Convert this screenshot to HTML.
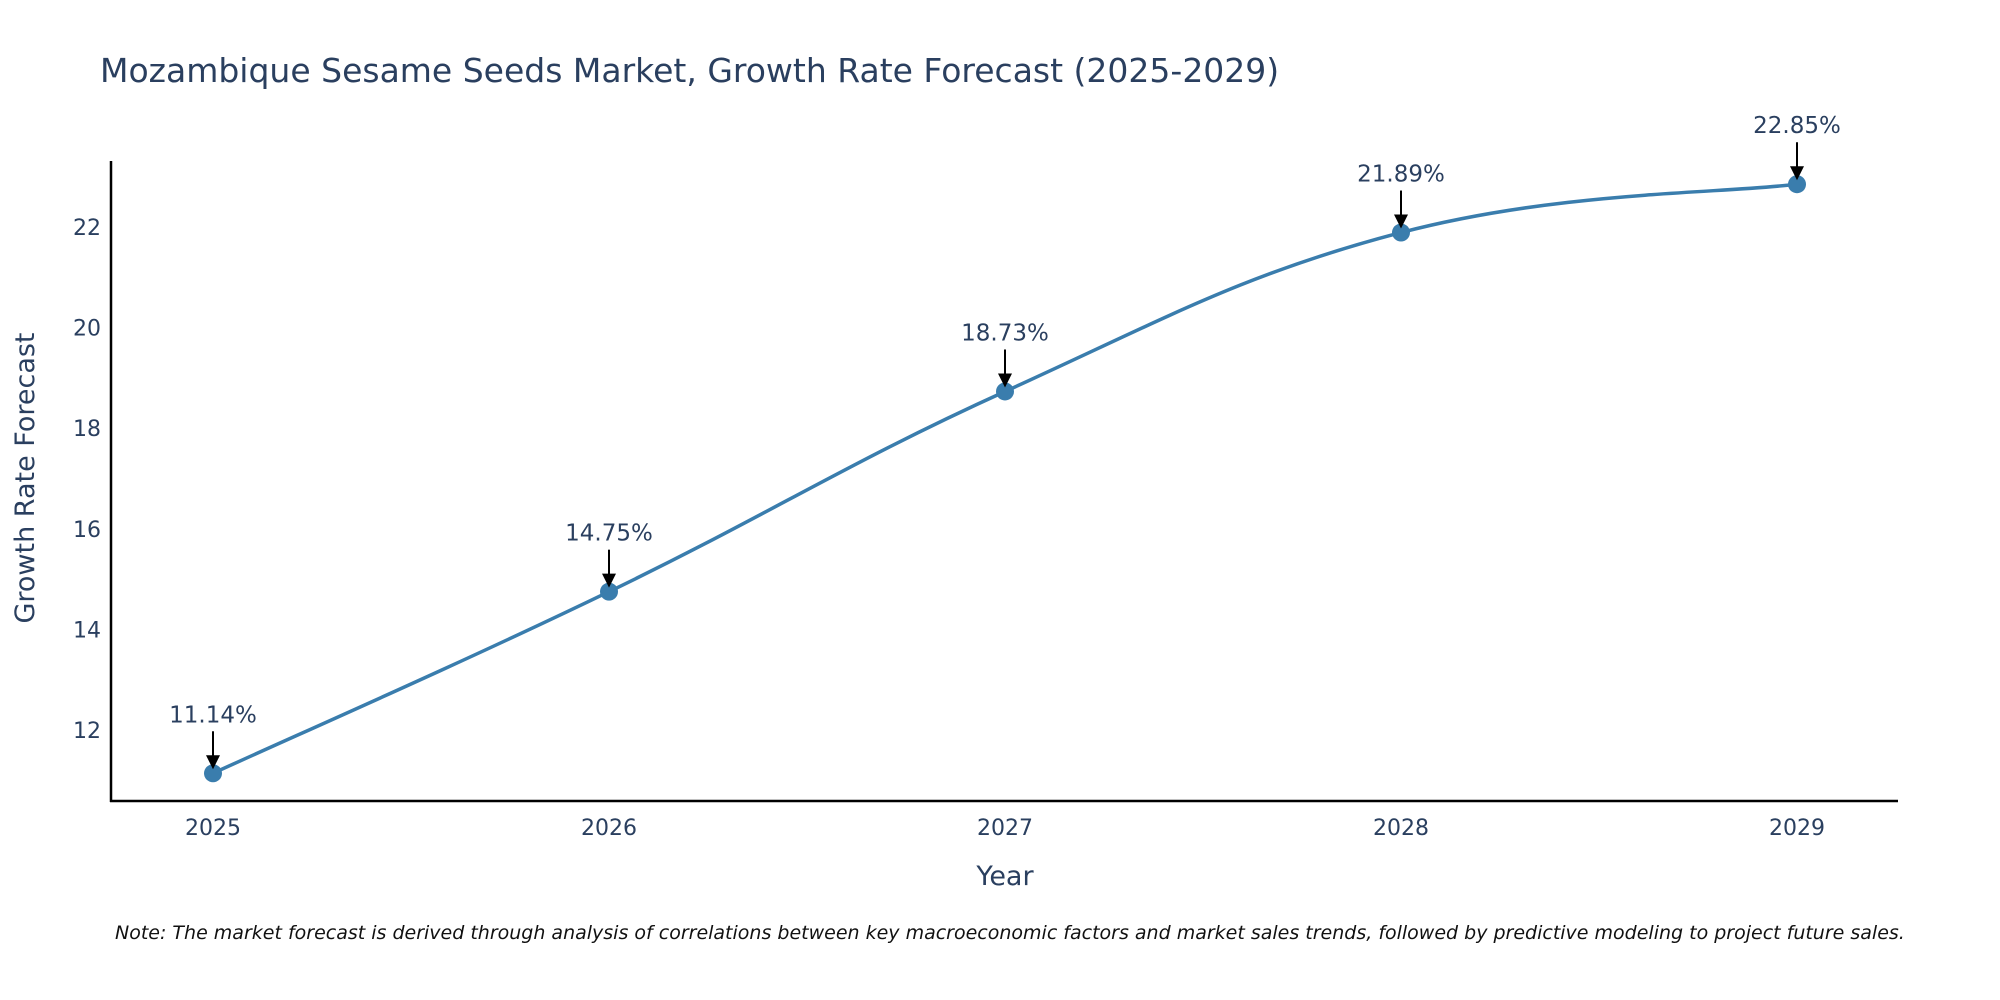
<!DOCTYPE html>
<html><head><meta charset="utf-8"><style>
html,body{margin:0;padding:0;background:#fff;}
svg{display:block;font-family:"DejaVu Sans","Liberation Sans",sans-serif;}
</style></head><body>
<svg id="chart" width="2000" height="1000" viewBox="0 0 2000 1000" xmlns="http://www.w3.org/2000/svg">
<text x="100" y="82" font-size="33" fill="#2a3f5f">Mozambique Sesame Seeds Market, Growth Rate Forecast (2025-2029)</text>
<g id="axes"></g>
<g id="series"></g>
<text transform="translate(34,478) rotate(-90)" text-anchor="middle" font-size="27" fill="#2a3f5f">Growth Rate Forecast</text>
<text x="1005" y="885" text-anchor="middle" font-size="27" fill="#2a3f5f">Year</text>
<text x="115" y="939" font-size="19" font-style="italic" fill="#111">Note: The market forecast is derived through analysis of correlations between key macroeconomic factors and market sales trends, followed by predictive modeling to project future sales.</text>
</svg>
<script>
const years = [2025, 2026, 2027, 2028, 2029];
const growth = [11.14, 14.75, 18.73, 21.89, 22.85];
const yTicks = [12, 14, 16, 18, 20, 22];
const NS = "http://www.w3.org/2000/svg";
function xs(i){ return 213 + (i) * 396; }
function ys(v){ return 730 - (v - 12) * 50.3; }
function mk(tag, attrs, parent){ const e = document.createElementNS(NS, tag); for (const k in attrs) e.setAttribute(k, attrs[k]); parent.appendChild(e); return e; }
const axes = document.getElementById('axes');
const series = document.getElementById('series');
const yAxis = mk('line', {x1:111, y1:161, x2:111, y2:802, stroke:'#000', 'stroke-width':2.5}, axes);


const xAxis = mk('line', {x1:110, y1:801, x2:1898, y2:801, stroke:'#000', 'stroke-width':2.5}, axes);


yTicks.forEach(v => {
  const t = mk('text', {x:101, y:ys(v) + 8, 'text-anchor':'end', 'font-size':22, fill:'#2a3f5f'}, axes);
  t.textContent = v;
  
  
});
years.forEach((yr, i) => {
  const t = mk('text', {x:xs(i), y:835, 'text-anchor':'middle', 'font-size':22, fill:'#2a3f5f'}, axes);
  t.textContent = yr;
  
  
});
const pts = growth.map((v, i) => [xs(i), ys(v)]);
let d = 'M' + pts[0][0] + ',' + pts[0][1];
const s = 0.2;
for (let i = 0; i < pts.length - 1; i++) {
  const p0 = pts[Math.max(0, i - 1)], p1 = pts[i], p2 = pts[i + 1], p3 = pts[Math.min(pts.length - 1, i + 2)];
  const c1 = [p1[0] + (p2[0] - p0[0]) * s, p1[1] + (p2[1] - p0[1]) * s];
  const c2 = [p2[0] - (p3[0] - p1[0]) * s, p2[1] - (p3[1] - p1[1]) * s];
  d += ' C' + c1[0] + ',' + c1[1] + ' ' + c2[0] + ',' + c2[1] + ' ' + p2[0] + ',' + p2[1];
}
const line = mk('path', {d:d, fill:'none', stroke:'#3a7dad', 'stroke-width':3.5}, series);


growth.forEach((v, i) => {
  const cx = xs(i), cy = ys(v);
  const c = mk('circle', {cx:cx, cy:cy, r:9, fill:'#3a7dad'}, series);
  
  
  const a = mk('line', {x1:cx, y1:cy - 42, x2:cx, y2:cy - 14, stroke:'#000', 'stroke-width':2}, series);
  
  
  const h = mk('polygon', {points:(cx - 7) + ',' + (cy - 18) + ' ' + (cx + 7) + ',' + (cy - 18) + ' ' + cx + ',' + (cy - 4), fill:'#000'}, series);
  
  
  const t = mk('text', {x:cx, y:cy - 51, 'text-anchor':'middle', 'font-size':23, fill:'#2a3f5f'}, series);
  t.textContent = v.toFixed(2) + '%';
  
  
});
</script>
</body></html>
